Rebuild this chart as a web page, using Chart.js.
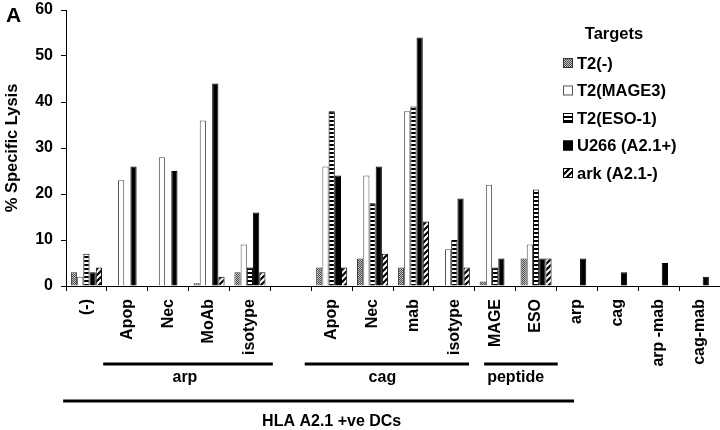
<!DOCTYPE html>
<html>
<head>
<meta charset="utf-8">
<script src="https://cdn.jsdelivr.net/npm/chart.js@4"></script>
<style>
html,body{margin:0;padding:0;background:#fff;}
#wrap{position:relative;width:720px;height:430px;}
</style>
</head>
<body>
<div id="wrap"><canvas id="c" width="720" height="430"></canvas></div>
<script>
// ---- data ----
const categories = ['(-)','Apop','Nec','MoAb','isotype','','Apop','Nec','mab','isotype','MAGE','ESO','arp','cag','arp -mab','cag-mab'];
const seriesNames = ['T2(-)','T2(MAGE3)','T2(ESO-1)','U266 (A2.1+)','ark (A2.1-)'];
const t2Neg   = [3, 0, 0, 0.6, 3, null, 4, 6, 4, 0, 1, 6, 0, 0, 0, 0];
const t2Mage3 = [2, 23, 28, 36, 9, null, 26, 24, 38, 8, 22, 9, 0, 0, 0, 0];
const t2Eso1  = [7, 0, 0, 0, 4, null, 38, 18, 39, 10, 4, 21, 0, 0, 0, 0];
const u266    = [3, 26, 25, 44, 16, null, 24, 26, 54, 19, 6, 6, 6, 3, 5, 2];
const ark     = [4, 0, 0, 2, 3, null, 4, 7, 14, 4, 0, 6, 0, 0, 0, 0];
const yTicks  = [0, 10, 20, 30, 40, 50, 60];
const groupNames = ['arp', 'cag', 'peptide', 'HLA A2.1 +ve DCs'];
const groupFrom  = [0.41, 5.34, 9.73, -0.57];   // in category units
const groupTo    = [4.56, 9.36, 11.53, 11.93];
const groupText  = [2.41, 7.24, 10.5, 6.0];
const groupLevel = [0, 0, 0, 1];

const FONT = '"Liberation Sans", Arial, sans-serif';

function makePattern(w, h, draw) {
  const c = document.createElement('canvas');
  c.width = w; c.height = h;
  const g = c.getContext('2d');
  draw(g, w, h);
  return g.createPattern(c, 'repeat');
}
const patGray = makePattern(2, 2, (g) => {
  g.fillStyle = '#c4c4c4'; g.fillRect(0, 0, 2, 2);
  g.fillStyle = '#4a4a4a'; g.fillRect(0, 0, 1, 1); g.fillRect(1, 1, 1, 1);
});
const patHoriz = makePattern(4, 4, (g) => {
  g.fillStyle = '#fff'; g.fillRect(0, 0, 4, 4);
  g.fillStyle = '#000'; g.fillRect(0, 0, 4, 2);
});
const patDiag = makePattern(6, 6, (g, w, h) => {
  g.fillStyle = '#fff'; g.fillRect(0, 0, w, h);
  g.strokeStyle = '#000'; g.lineWidth = 2.2;
  g.beginPath();
  g.moveTo(-1, h + 1); g.lineTo(w + 1, -1);
  g.moveTo(-1, 1); g.lineTo(1, -1);
  g.moveTo(w - 1, h + 1); g.lineTo(w + 1, h - 1);
  g.stroke();
});
const fills = [patGray, '#ffffff', patHoriz, '#000000', patDiag];
const borders = ['#333', '#555', '#000', '#000', '#000'];
const values = [t2Neg, t2Mage3, t2Eso1, u266, ark];

const overlay = {
  id: 'overlay',
  afterDraw(chart) {
    const { ctx, chartArea } = chart;
    const x = chart.scales.x;
    const x0 = x.getPixelForValue(0);
    const w = x.getPixelForValue(1) - x0;
    ctx.save();
    ctx.fillStyle = '#000';
    // panel letter
    ctx.font = 'bold 21px ' + FONT;
    ctx.textAlign = 'left'; ctx.textBaseline = 'middle';
    ctx.fillText('A', 6, 16);
    // groups
    ctx.strokeStyle = '#000'; ctx.lineWidth = 3;
    ctx.textAlign = 'center';
    groupNames.forEach((name, i) => {
      const ly = chartArea.bottom + (groupLevel[i] ? 115 : 78);
      const ty = chartArea.bottom + (groupLevel[i] ? 136 : 92);
      ctx.beginPath();
      ctx.moveTo(x0 + groupFrom[i] * w, ly);
      ctx.lineTo(x0 + groupTo[i] * w, ly);
      ctx.stroke();
      ctx.font = 'bold 16px ' + FONT;
      ctx.fillText(name, x0 + groupText[i] * w, ty);
    });
    // legend
    ctx.font = 'bold 16.5px ' + FONT;
    ctx.textAlign = 'center';
    ctx.fillText('Targets', 614, 34);
    ctx.textAlign = 'left';
    seriesNames.forEach((name, i) => {
      const cy = 63 + i * 27.5;
      ctx.fillStyle = fills[i];
      ctx.fillRect(563, cy - 5, 10, 10);
      ctx.strokeStyle = borders[i]; ctx.lineWidth = 1;
      ctx.strokeRect(563.5, cy - 4.5, 9, 9);
      ctx.fillStyle = '#000';
      ctx.fillText(name, 577, cy + 1);
    });
    ctx.restore();
  }
};

new Chart(document.getElementById('c'), {
  type: 'bar',
  data: {
    labels: categories,
    datasets: seriesNames.map((name, i) => ({
      label: name,
      data: values[i],
      backgroundColor: fills[i],
      borderColor: borders[i],
      borderWidth: 1,
      categoryPercentage: 0.76,
      barPercentage: 1.0
    }))
  },
  options: {
    responsive: false,
    animation: false,
    devicePixelRatio: 1,
    layout: { padding: { left: 0, right: 0, top: 10, bottom: 0 } },
    plugins: { legend: { display: false }, tooltip: { enabled: false } },
    scales: {
      x: {
        afterFit: (s) => { s.height = 144; s.paddingLeft = 0; s.paddingRight = 0; },
        grid: { display: true, drawOnChartArea: false, drawTicks: true, tickLength: 5, color: '#000', offset: true },
        border: { color: '#000', width: 1 },
        ticks: {
          color: '#000', autoSkip: false, minRotation: 90, maxRotation: 90, padding: 8,
          font: { family: FONT, size: 16, weight: 'bold' }
        }
      },
      y: {
        min: 0, max: 60,
        afterFit: (s) => { s.width = 66; s.paddingTop = 0; s.paddingBottom = 0; },
        afterBuildTicks: (s) => { s.ticks = yTicks.map(v => ({ value: v })); },
        grid: { display: true, drawOnChartArea: false, drawTicks: true, tickLength: 5, color: '#000' },
        border: { color: '#000', width: 1 },
        ticks: { color: '#000', padding: 8, font: { family: FONT, size: 16, weight: 'bold' } },
        title: { display: true, text: '% Specific Lysis', color: '#000', padding: { top: 3, bottom: 0 },
                 font: { family: FONT, size: 16.5, weight: 'bold' } }
      }
    }
  },
  plugins: [overlay]
});
</script>
</body>
</html>
